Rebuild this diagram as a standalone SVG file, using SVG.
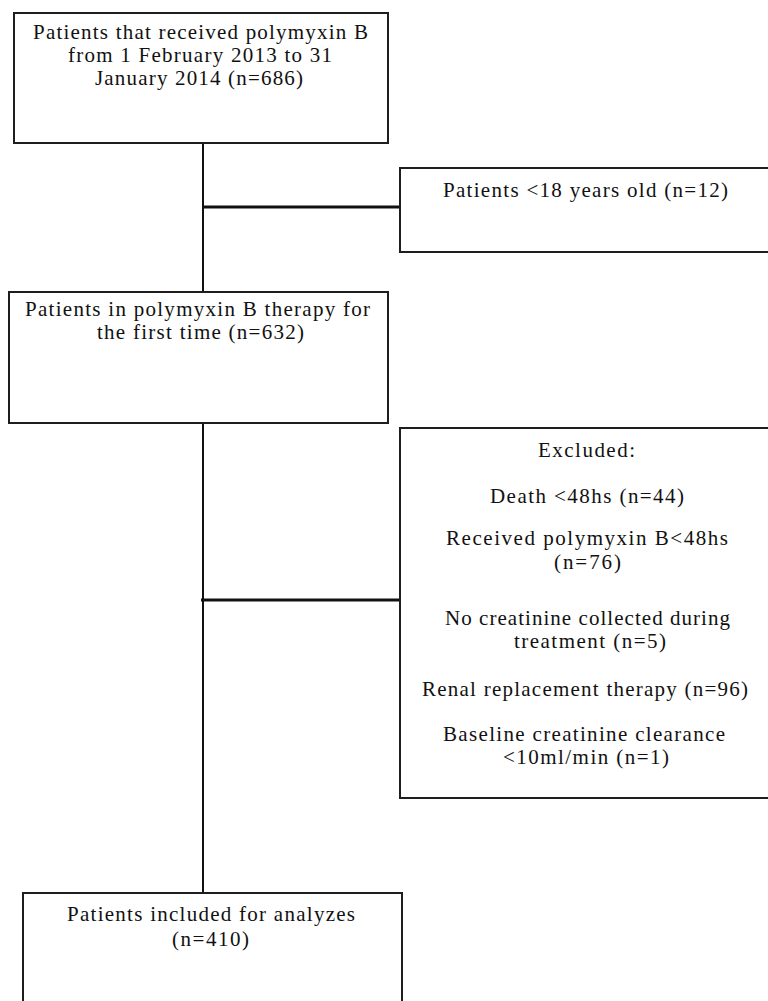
<svg xmlns="http://www.w3.org/2000/svg" width="768" height="1001" viewBox="0 0 768 1001">
  <style>
    .box { fill: #ffffff; stroke: #1e1e1e; stroke-width: 2; }
    .lbl { font-family: "Liberation Serif", "Times New Roman", serif; font-size: 21px; fill: #111111; }
    .link { stroke: #111111; fill: none; }
  </style>
  <rect width="768" height="1001" fill="#ffffff"/>

  <!-- connectors -->
  <g id="connectors">
    <line class="link" x1="203" y1="143" x2="203" y2="292" stroke-width="2"/>
    <line class="link" x1="203" y1="423" x2="203" y2="893" stroke-width="2"/>
    <line class="link" x1="203" y1="207" x2="400" y2="207" stroke-width="3"/>
    <line class="link" x1="201" y1="600" x2="399" y2="600" stroke-width="3"/>
  </g>

  <!-- start population -->
  <g id="node-received">
    <rect class="box" x="14" y="13" width="374" height="130"/>
    <text class="lbl" x="33" y="39" textLength="335" lengthAdjust="spacing">Patients that received polymyxin B</text>
    <text class="lbl" x="68" y="62" textLength="264" lengthAdjust="spacing">from 1 February 2013 to 31</text>
    <text class="lbl" x="95" y="85" textLength="208" lengthAdjust="spacing">January 2014 (n=686)</text>
  </g>

  <!-- age exclusion -->
  <g id="node-under18">
    <rect class="box" x="400" y="168" width="380" height="84"/>
    <text class="lbl" x="443" y="197" textLength="285" lengthAdjust="spacing">Patients &lt;18 years old (n=12)</text>
  </g>

  <!-- first-time therapy -->
  <g id="node-firsttime">
    <rect class="box" x="9" y="292" width="379" height="131"/>
    <text class="lbl" x="25" y="316" textLength="345" lengthAdjust="spacing">Patients in polymyxin B therapy for</text>
    <text class="lbl" x="97" y="339" textLength="207" lengthAdjust="spacing">the first time (n=632)</text>
  </g>

  <!-- exclusion list -->
  <g id="node-excluded">
    <rect class="box" x="400" y="428" width="380" height="370"/>
    <text class="lbl" x="538" y="457" textLength="97" lengthAdjust="spacing">Excluded:</text>
    <text class="lbl" x="490" y="503" textLength="194" lengthAdjust="spacing">Death &lt;48hs (n=44)</text>
    <text class="lbl" x="446" y="545" textLength="282" lengthAdjust="spacing">Received polymyxin B&lt;48hs</text>
    <text class="lbl" x="554" y="569" textLength="67" lengthAdjust="spacing">(n=76)</text>
    <text class="lbl" x="445" y="625" textLength="285" lengthAdjust="spacing">No creatinine collected during</text>
    <text class="lbl" x="514" y="648" textLength="152" lengthAdjust="spacing">treatment (n=5)</text>
    <text class="lbl" x="422" y="696" textLength="326" lengthAdjust="spacing">Renal replacement therapy (n=96)</text>
    <text class="lbl" x="443" y="741" textLength="282" lengthAdjust="spacing">Baseline creatinine clearance</text>
    <text class="lbl" x="503" y="764" textLength="166" lengthAdjust="spacing">&lt;10ml/min (n=1)</text>
  </g>

  <!-- final cohort -->
  <g id="node-included">
    <rect class="box" x="23" y="893" width="379" height="130"/>
    <text class="lbl" x="67" y="921" textLength="288" lengthAdjust="spacing">Patients included for analyzes</text>
    <text class="lbl" x="172" y="946" textLength="77" lengthAdjust="spacing">(n=410)</text>
  </g>
</svg>
